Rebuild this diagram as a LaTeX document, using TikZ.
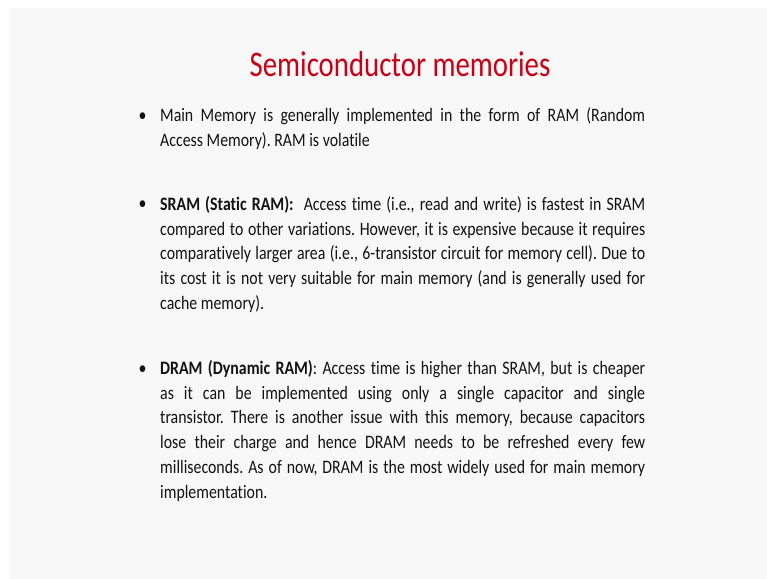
\documentclass[tikz,border=0pt]{standalone}
\usepackage{fontspec}
\setmainfont{Carlito}[FakeStretch=0.835, Ligatures=NoCommon]
\newfontfamily\titlefont{Carlito}[FakeStretch=0.8, Ligatures=NoCommon]
\definecolor{slidered}{RGB}{200,0,22}
\definecolor{slidegray}{RGB}{248,248,248}
\definecolor{bodyink}{RGB}{18,18,18}
\begin{document}
\begin{tikzpicture}[x=1bp, y=-1bp,
    heading/.style={font=\titlefont\fontsize{36bp}{42bp}\selectfont, text=slidered, inner sep=0pt, anchor=base},
    bulletdot/.style={font=\fontsize{19bp}{24.8bp}\selectfont, text=bodyink, inner sep=0pt, anchor=base},
    itemtext/.style={font=\fontsize{19bp}{24.8bp}\selectfont\frenchspacing, text=bodyink, inner sep=0pt,
        anchor=north west, text width=485bp, align=justify}]
    % Slide background
    \fill[white] (0,0) rectangle (767,579);
    \fill[slidegray] (10,8) rectangle (767,579);

    % Title
    \node[heading] (title) at (400,77) {Semiconductor memories};

    % First bullet - RAM in general
    \node[bulletdot] (dotA) at (142.5,121.5) {•};
    \node[itemtext] (itemA) at (160,106.5) {\noindent\hyphenpenalty=10000\exhyphenpenalty=10000\rule{0pt}{15bp}%
        Main Memory is generally implemented in the form of RAM (Random\linebreak
        Access Memory). RAM is volatile};

    % Second bullet - SRAM
    \node[bulletdot] (dotB) at (142.5,210) {•};
    \node[itemtext] (itemB) at (160,195) {\noindent\hyphenpenalty=10000\exhyphenpenalty=10000\rule{0pt}{15bp}%
        \textbf{SRAM (Static RAM):}\ \ Access time (i.e., read and write) is fastest in SRAM\linebreak
        compared to other variations. However, it is expensive because it requires\linebreak
        comparatively larger area (i.e., 6-transistor circuit for memory cell). Due to\linebreak
        its cost it is not very suitable for main memory (and is generally used for\linebreak
        cache memory).};

    % Third bullet - DRAM
    \node[bulletdot] (dotC) at (142.5,374) {•};
    \node[itemtext] (itemC) at (160,359) {\noindent\hyphenpenalty=10000\exhyphenpenalty=10000\rule{0pt}{15bp}%
        \textbf{DRAM (Dynamic RAM)}: Access time is higher than SRAM, but is cheaper\linebreak
        as it can be implemented using only a single capacitor and single\linebreak
        transistor. There is another issue with this memory, because capacitors\linebreak
        lose their charge and hence DRAM needs to be refreshed every few\linebreak
        milliseconds. As of now, DRAM is the most widely used for main memory\linebreak
        implementation.};
\end{tikzpicture}
\end{document}
